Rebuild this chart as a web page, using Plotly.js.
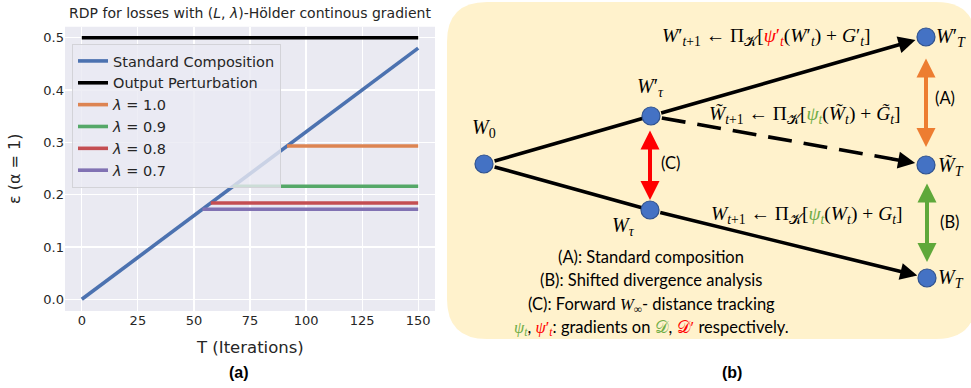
<!DOCTYPE html>
<html><head><meta charset="utf-8">
<script src="https://cdn.plot.ly/plotly-3.0.1.min.js"></script>
<style>html,body{margin:0;padding:0;background:#fff}#chart{width:971px;height:388px}</style>
</head><body><div id="chart"></div>
<script>
// ---------- data, panel (a) ----------
const compT = [0, 150];
const compEps = [0, 0.48];
const outT = [0, 150];
const outEps = [0.5, 0.5];
const lambdaLabels = ['1.0', '0.9', '0.8', '0.7'];
const lambdaStartT = [91.5, 67.5, 57.5, 53.8];
const lambdaEndT = [150, 150, 150, 150];
const lambdaEps = [0.293, 0.216, 0.184, 0.172];
const xTicks = [0, 25, 50, 75, 100, 125, 150];
const yTicks = [0.0, 0.1, 0.2, 0.3, 0.4, 0.5];

// ---------- panel (b) diagram nodes ----------
const nodeNames = ['W0', 'Wpt', 'Wt', 'WpT', 'WtT', 'WT'];
const nodeX = [484, 651, 650, 926, 926, 927];
const nodeY = [164, 116, 210, 37, 165, 278];

const W = 971, H = 388;
const px = x => x / W, py = y => 1 - y / H;
const N = {}; nodeNames.forEach((n, i) => N[n] = [nodeX[i], nodeY[i]]);
function along(a, b, d) { // point at distance d from a towards b
  const dx = b[0] - a[0], dy = b[1] - a[1], L = Math.hypot(dx, dy);
  return [a[0] + dx / L * d, a[1] + dy / L * d];
}
const lamColors = ['#dd8452', '#55a868', '#c44e52', '#8172b3'];
const LW = 3.6;
const traces = [];
traces.push({x: compT, y: compEps, mode: 'lines', name: 'Standard Composition', line: {color: '#4c72b0', width: LW}});
traces.push({x: outT, y: outEps, mode: 'lines', name: 'Output Perturbation', line: {color: '#000000', width: LW}});
lambdaLabels.forEach((l, i) => traces.push({
  x: [lambdaStartT[i], lambdaEndT[i]], y: [lambdaEps[i], lambdaEps[i]], mode: 'lines',
  name: '<i>λ</i> = ' + l, line: {color: lamColors[i], width: LW}
}));

// diagram lines (x2/y2 in pixel units)
const dl = {xaxis: 'x2', yaxis: 'y2', mode: 'lines', showlegend: false, hoverinfo: 'skip'};
const a1 = along(N.W0, N.Wpt, 11), a2 = along(N.W0, N.Wt, 11);
traces.push(Object.assign({x: [a1[0], N.Wpt[0]], y: [a1[1], N.Wpt[1]], line: {color: '#000', width: 3.6}}, dl));
traces.push(Object.assign({x: [a2[0], N.Wt[0]], y: [a2[1], N.Wt[1]], line: {color: '#000', width: 3.6}}, dl));
const d1 = along(N.Wpt, N.WtT, 11), d2 = along(N.WtT, N.Wpt, 34);
traces.push(Object.assign({x: [d1[0], d2[0]], y: [d1[1], d2[1]], line: {color: '#000', width: 3.6, dash: '24px,12px'}}, dl));
traces.push(Object.assign({}, dl, {x: nodeX, y: nodeY, mode: 'markers',
  marker: {size: 18, color: '#4472c4', line: {color: '#2f528f', width: 1.2}}}));

const ann = [];
function arrow(from, to, color, width, both) {
  const o = {xref: 'x2', yref: 'y2', axref: 'x2', ayref: 'y2', x: to[0], y: to[1], ax: from[0], ay: from[1],
    text: '', showarrow: true, arrowhead: 2, arrowsize: 0.95, arrowwidth: width, arrowcolor: color, standoff: 0};
  if (both) { o.arrowside = 'end+start'; o.startarrowhead = 2; o.startarrowsize = 0.95; o.startstandoff = 0; }
  ann.push(o);
}
arrow(along(N.Wpt, N.WpT, 9), along(N.WpT, N.Wpt, 11), '#000', 3.6);
arrow(along(N.Wt, N.WT, 9), along(N.WT, N.Wt, 10), '#000', 3.6);
arrow(along(N.WtT, N.Wpt, 36), along(N.WtT, N.Wpt, 11), '#000', 3.6);
arrow([926, 57], [926, 147], '#ed7d31', 4, true);
arrow([927, 182], [927, 262], '#5fa83a', 4, true);
arrow([650, 129], [650, 200], '#ff0000', 4, true);

const serif = 'Liberation Serif, DejaVu Serif, serif';
const sans = 'Lato, Noto Sans, sans-serif';
function t2(x, y, text, size, fam, anchor) {
  ann.push({xref: 'x2', yref: 'y2', x: x, y: y, text: text, showarrow: false, xanchor: anchor || 'center', yanchor: 'middle',
    font: {family: fam, size: size, color: '#000'}});
}
const GR = '#70ad47', RD = '#ff0000';
t2(484, 128, '<i>W</i><sub>0</sub>', 20, serif);
t2(650, 87, '<i>W</i>′<sub><i>τ</i></sub>', 20, serif);
t2(623, 226, '<i>W</i><sub><i>τ</i></sub>', 20, serif);
t2(934, 37, '<i>W</i>′<sub><i>T</i></sub>', 20, serif, 'left');
t2(936, 166, '<i>W̃</i><sub><i>T</i></sub>', 20, serif, 'left');
t2(936, 278, '<i>W</i><sub><i>T</i></sub>', 20, serif, 'left');
t2(766, 37, "<i>W</i>′<sub><i>t</i>+1</sub> ← Π<sub>𝒦</sub>[<span style='color:" + RD + "'><i>ψ</i>′<sub><i>t</i></sub></span>(<i>W</i>′<sub><i>t</i></sub>) + <i>G</i>′<sub><i>t</i></sub>]", 19.5, serif);
t2(805, 115, "<i>W̃</i><sub><i>t</i>+1</sub> ← Π<sub>𝒦</sub>[<span style='color:" + GR + "'><i>ψ</i><sub><i>t</i></sub></span>(<i>W̃</i><sub><i>t</i></sub>) + <i>G̃</i><sub><i>t</i></sub>]", 19.5, serif);
t2(807, 215, "<i>W</i><sub><i>t</i>+1</sub> ← Π<sub>𝒦</sub>[<span style='color:" + GR + "'><i>ψ</i><sub><i>t</i></sub></span>(<i>W</i><sub><i>t</i></sub>) + <i>G</i><sub><i>t</i></sub>]", 19.5, serif);
t2(945, 98, '(A)', 16.5, sans);
t2(949, 222, '(B)', 16.5, sans);
t2(671, 163, '(C)', 16.5, sans);
t2(651, 257, '(A): Standard composition', 16.5, sans);
t2(651, 280, '(B): Shifted divergence analysis', 16.5, sans);
t2(651, 304, "(C): Forward <span style='font-family:Liberation Serif'><i>W</i><sub>∞</sub></span>- distance tracking", 16.5, sans);
t2(651, 327, "<span style='font-family:Liberation Serif;color:" + GR + "'><i>ψ</i><sub><i>t</i></sub></span>, <span style='font-family:Liberation Serif;color:" + RD + "'><i>ψ</i>′<sub><i>t</i></sub></span>: gradients on <span style='font-family:Liberation Serif;color:" + GR + "'>𝒟</span>, <span style='font-family:Liberation Serif;color:" + RD + "'>𝒟′</span> respectively.", 16.5, sans);

// panel (a) labels
const dj = 'DejaVu Sans, sans-serif';
ann.push({xref: 'paper', yref: 'paper', x: px(250), y: py(347), text: 'T (Iterations)', showarrow: false, xanchor: 'center', yanchor: 'middle', font: {family: dj, size: 16.5, color: '#262626'}});
ann.push({xref: 'paper', yref: 'paper', x: px(14), y: py(169), text: 'ε (α = 1)', textangle: -90, showarrow: false, xanchor: 'center', yanchor: 'middle', font: {family: dj, size: 16, color: '#262626'}});
ann.push({xref: 'paper', yref: 'paper', x: px(239), y: py(372), text: '<b>(a)</b>', showarrow: false, xanchor: 'center', yanchor: 'middle', font: {family: 'Liberation Sans, Arial, sans-serif', size: 16, color: '#000'}});
ann.push({xref: 'paper', yref: 'paper', x: px(732), y: py(372), text: '<b>(b)</b>', showarrow: false, xanchor: 'center', yanchor: 'middle', font: {family: 'Liberation Sans, Arial, sans-serif', size: 16, color: '#000'}});

// rounded background box for (b)
const bx0 = 447, bx1 = 971 + 5, by0 = 2, by1 = 339, r = 40;
const boxPath = `M ${bx0 + r} ${by0} L ${bx1 - r} ${by0} Q ${bx1} ${by0} ${bx1} ${by0 + r} L ${bx1} ${by1 - r} Q ${bx1} ${by1} ${bx1 - r} ${by1} L ${bx0 + r} ${by1} Q ${bx0} ${by1} ${bx0} ${by1 - r} L ${bx0} ${by0 + r} Q ${bx0} ${by0} ${bx0 + r} ${by0} Z`;

const layout = {
  width: W, height: H, margin: {l: 0, r: 0, t: 0, b: 0},
  paper_bgcolor: '#ffffff', plot_bgcolor: 'rgba(0,0,0,0)',
  showlegend: true,
  title: {text: 'RDP for losses with (<i>L</i>, <i>λ</i>)-Hölder continous gradient', x: px(250), y: py(13), xanchor: 'center', yanchor: 'middle', xref: 'paper', yref: 'paper',
    font: {family: dj, size: 14, color: '#262626'}},
  xaxis: {domain: [px(65), px(435)], range: [-7.5, 157.5], tickvals: xTicks, ticks: '', showline: false, zeroline: false,
    gridcolor: '#ffffff', gridwidth: 1.2, tickfont: {family: dj, size: 13, color: '#262626'}, automargin: false, anchor: 'y', fixedrange: true},
  yaxis: {domain: [py(311), py(26.7)], range: [-0.0224, 0.521], tickvals: yTicks, tickformat: '.1f', ticks: '', showline: false, zeroline: false,
    gridcolor: '#ffffff', gridwidth: 1.2, tickfont: {family: dj, size: 13, color: '#262626'}, automargin: false, anchor: 'x', fixedrange: true},
  xaxis2: {domain: [0, 1], range: [0, W], visible: false, anchor: 'y2', fixedrange: true},
  yaxis2: {domain: [0, 1], range: [H, 0], visible: false, anchor: 'x2', fixedrange: true},
  legend: {x: px(72), y: py(44), xanchor: 'left', yanchor: 'top', bgcolor: 'rgba(234,234,242,0.8)', bordercolor: '#d3d3d8', borderwidth: 1,
    font: {family: dj, size: 14.5, color: '#262626'}, tracegroupgap: 0},
  shapes: [
    {type: 'rect', xref: 'x domain', yref: 'y domain', x0: 0, x1: 1, y0: 0, y1: 1, fillcolor: '#eaeaf2', line: {width: 0}, layer: 'below'},
    {type: 'path', xref: 'x2', yref: 'y2', path: boxPath, fillcolor: '#fff2cc', line: {width: 0}, layer: 'below'}
  ],
  annotations: ann
};
Plotly.newPlot('chart', traces, layout, {displayModeBar: false, staticPlot: true});
</script></body></html>
